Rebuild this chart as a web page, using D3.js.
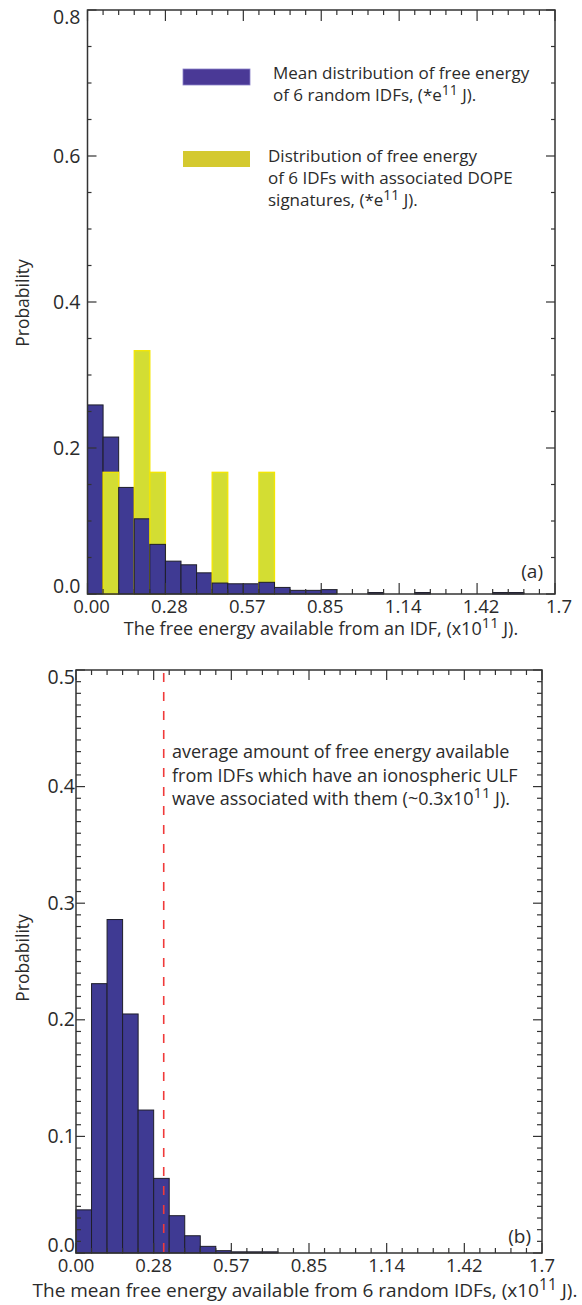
<!DOCTYPE html>
<html>
<head>
<meta charset="utf-8">
<script src="https://cdn.jsdelivr.net/npm/d3@7"></script>
<style>
  html, body { margin: 0; padding: 0; background: #fff; }
  svg { display: block; }
  text { font-family: "Open Sans", "Noto Sans", sans-serif; fill: #2b2b2b; }
</style>
</head>
<body>
<svg id="chart" width="582" height="1305"></svg>
<script>
// ---------------- DATA ----------------
const xMax = 1.7;
const nBins = 30;
// panel (a): mean distribution of free energy of 6 random IDFs
const randomIDFProb = [0.259, 0.215, 0.146, 0.103, 0.068, 0.045, 0.040, 0.029, 0.015, 0.014,
                       0.014, 0.016, 0.009, 0.005, 0.005, 0.006, 0, 0, 0.002, 0,
                       0, 0.002, 0, 0, 0, 0, 0.002, 0.002, 0, 0];
// panel (a): distribution of free energy of 6 IDFs with DOPE signatures
const dopeIDFProb = [0, 0.1667, 0, 0.3333, 0.1667, 0, 0, 0, 0.1667, 0,
                     0, 0.1667, 0, 0, 0, 0, 0, 0, 0, 0,
                     0, 0, 0, 0, 0, 0, 0, 0, 0, 0];
// panel (b): mean free energy from 6 random IDFs
const meanEnergyProb = [0.037, 0.231, 0.286, 0.205, 0.1226, 0.064, 0.032, 0.0148, 0.0057, 0.002,
                        0.001, 0.001, 0.001, 0, 0, 0, 0, 0, 0, 0,
                        0, 0, 0, 0, 0, 0, 0, 0, 0, 0];
const ulfMeanEnergy = 0.32;
const xTickLabels = ["0.00", "0.28", "0.57", "0.85", "1.14", "1.42", "1.7"];
const yTicksA = [0, 0.2, 0.4, 0.6, 0.8];
const yTickLabelsA = ["0.0", "0.2", "0.4", "0.6", "0.8"];
const yTicksB = [0, 0.1, 0.2, 0.3, 0.4, 0.5];
const yTickLabelsB = ["0.0", "0.1", "0.2", "0.3", "0.4", "0.5"];

// ---------------- STYLE ----------------
const BLUE = "#3f3a93";
const BLUE_STROKE = "#1e1e2a";
const YELLOW = "#d3dd33";
const YELLOW_STROKE = "#f3e600";
const AXIS = "#333";

const svg = d3.select("#chart");
const binW = xMax / nBins;
const binStarts = d3.range(nBins).map(i => i * binW);

function frame(g, x, y, opts) {
  const [x0, x1] = x.range();
  const [y0, y1] = y.range();
  const xMinor = d3.range(nBins + 1).map(i => i * binW);
  const xMajor = d3.range(7).map(i => i * xMax / 6);
  const yMinor = opts.yMinor, yMajor = opts.yMajor;
  const tk = g.append("g").attr("stroke", AXIS).attr("stroke-width", 1.2);
  xMinor.forEach(v => {
    const major = xMajor.some(m => Math.abs(m - v) < 1e-9);
    const L = major ? opts.xMajLen : opts.xMinLen;
    tk.append("line").attr("x1", x(v)).attr("x2", x(v)).attr("y1", y0).attr("y2", y0 - L);
    tk.append("line").attr("x1", x(v)).attr("x2", x(v)).attr("y1", y1).attr("y2", y1 + L);
  });
  yMinor.forEach(v => {
    const major = yMajor.some(m => Math.abs(m - v) < 1e-9);
    const L = major ? opts.yMajLen : opts.yMinLen;
    tk.append("line").attr("x1", x0).attr("x2", x0 + L).attr("y1", y(v)).attr("y2", y(v));
    tk.append("line").attr("x1", x1).attr("x2", x1 - L).attr("y1", y(v)).attr("y2", y(v));
  });
  g.append("rect").attr("x", x0).attr("y", y1).attr("width", x1 - x0).attr("height", y0 - y1)
    .attr("fill", "none").attr("stroke", AXIS).attr("stroke-width", 1.5);
  g.append("g").selectAll("text").data(xMajor).join("text")
    .attr("x", (d) => x(d) + opts.xLabelShift).attr("y", y0 + 19)
    .attr("text-anchor", "middle").attr("font-size", 18.5)
    .text((d, i) => xTickLabels[i]);
  g.append("g").selectAll("text").data(yMajor).join("text")
    .attr("x", x0 - opts.yLabelGap)
    .attr("y", d => Math.min(Math.max(y(d) + 6.5, y1 + 13.5), y0 - 1))
    .attr("text-anchor", "end").attr("font-size", 19.5)
    .text((d, i) => opts.yLabels[i]);
}

function sup(sel, parts, size) {
  parts.forEach(p => {
    if (p.sup) {
      sel.append("tspan").attr("dy", -size * 0.38).attr("font-size", size * 0.82).text(p.t);
    } else {
      const t = sel.append("tspan").text(p.t);
      if (p.back) t.attr("dy", size * 0.38);
    }
  });
}

// ============ PANEL (a) ============
{
  const x = d3.scaleLinear().domain([0, xMax]).range([87.5, 555]);
  const y = d3.scaleLinear().domain([0, 0.8]).range([594, 10]);
  const g = svg.append("g");

  const bins = binStarts.map((s, i) => {
    const items = [
      { s: "blue", v: randomIDFProb[i], x0: s },
      { s: "yellow", v: dopeIDFProb[i], x0: s }
    ];
    // taller bar behind, shorter bar in front (yellow in front on ties)
    items.sort((a, b) => (b.v - a.v) || (a.s === "blue" ? -1 : 1));
    return items;
  });
  const bg = g.append("g").selectAll("g").data(bins).join("g");
  bg.selectAll("rect").data(d => d).join("rect")
    .attr("x", d => x(d.x0))
    .attr("width", d => x(d.x0 + binW) - x(d.x0))
    .attr("y", d => y(d.v))
    .attr("height", d => y(0) - y(d.v))
    .attr("fill", d => d.s === "blue" ? BLUE : YELLOW)
    .attr("stroke", d => d.s === "blue" ? BLUE_STROKE : YELLOW_STROKE)
    .attr("stroke-width", d => d.s === "blue" ? 1 : 1.3);

  frame(g, x, y, {
    yMinor: d3.range(0, 0.8001, 0.05), yMajor: yTicksA, yLabels: yTickLabelsA,
    xMajLen: 11, xMinLen: 5, yMajLen: 9, yMinLen: 4, xLabelShift: 4, yLabelGap: 7
  });

  // legend
  const lg = g.append("g");
  lg.append("rect").attr("x", 183).attr("y", 69).attr("width", 67).attr("height", 16)
    .attr("fill", "#4a3996").attr("stroke", "#8a80c8").attr("stroke-width", 0.8);
  lg.append("rect").attr("x", 183).attr("y", 151).attr("width", 67).attr("height", 16)
    .attr("fill", "#d4c92f");
  const fs = 17;
  lg.append("text").attr("x", 273).attr("y", 79).attr("font-size", fs).text("Mean distribution of free energy");
  sup(lg.append("text").attr("x", 273).attr("y", 101).attr("font-size", fs),
      [{ t: "of 6 random IDFs, (*e" }, { t: "11", sup: true }, { t: " J).", back: true }], fs);
  lg.append("text").attr("x", 268).attr("y", 162).attr("font-size", fs).text("Distribution of free energy");
  lg.append("text").attr("x", 268).attr("y", 184).attr("font-size", fs).text("of 6 IDFs with associated DOPE");
  sup(lg.append("text").attr("x", 268).attr("y", 206).attr("font-size", fs),
      [{ t: "signatures, (*e" }, { t: "11", sup: true }, { t: " J).", back: true }], fs);

  g.append("text").attr("x", 543).attr("y", 578).attr("text-anchor", "end").attr("font-size", 19).text("(a)");
  sup(g.append("text").attr("x", 321).attr("y", 635).attr("text-anchor", "middle").attr("font-size", 18),
      [{ t: "The free energy available from an IDF, (x10" }, { t: "11", sup: true }, { t: " J).", back: true }], 18);
  g.append("text").attr("transform", "translate(29,303) rotate(-90)")
    .attr("text-anchor", "middle").attr("font-size", 17.5).text("Probability");
}

// ============ PANEL (b) ============
{
  const x = d3.scaleLinear().domain([0, xMax]).range([76, 542]);
  const y = d3.scaleLinear().domain([0, 0.5]).range([1253, 670]);
  const g = svg.append("g");

  g.append("g").selectAll("rect").data(meanEnergyProb.map((v, i) => ({ v, x0: binStarts[i] })).filter(d => d.v > 0))
    .join("rect")
    .attr("x", d => x(d.x0))
    .attr("width", d => x(d.x0 + binW) - x(d.x0))
    .attr("y", d => y(d.v))
    .attr("height", d => y(0) - y(d.v))
    .attr("fill", BLUE).attr("stroke", BLUE_STROKE).attr("stroke-width", 1);

  g.append("line").attr("x1", x(ulfMeanEnergy)).attr("x2", x(ulfMeanEnergy))
    .attr("y1", y(0.5)).attr("y2", y(0))
    .attr("stroke", "#f03a3a").attr("stroke-width", 1.6).attr("stroke-dasharray", "9,10")
    .attr("stroke-dashoffset", -3);

  frame(g, x, y, {
    yMinor: d3.range(0, 0.5001, 0.01), yMajor: yTicksB, yLabels: yTickLabelsB,
    xMajLen: 10, xMinLen: 5, yMajLen: 9, yMinLen: 5, xLabelShift: 0, yLabelGap: 1
  });

  const fs = 18;
  g.append("text").attr("x", 172).attr("y", 758).attr("font-size", fs).text("average amount of free energy available");
  g.append("text").attr("x", 172).attr("y", 781.5).attr("font-size", fs).text("from IDFs which have an ionospheric ULF");
  sup(g.append("text").attr("x", 172).attr("y", 805).attr("font-size", fs),
      [{ t: "wave associated with them (~0.3x10" }, { t: "11", sup: true }, { t: " J).", back: true }], fs);

  g.append("text").attr("x", 531).attr("y", 1243).attr("text-anchor", "end").attr("font-size", 19).text("(b)");
  sup(g.append("text").attr("x", 305).attr("y", 1297).attr("text-anchor", "middle").attr("font-size", 19),
      [{ t: "The mean free energy available from 6 random IDFs, (x10" }, { t: "11", sup: true }, { t: " J).", back: true }], 19);
  g.append("text").attr("transform", "translate(29,958) rotate(-90)")
    .attr("text-anchor", "middle").attr("font-size", 17.5).text("Probability");
}
</script>
</body>
</html>
